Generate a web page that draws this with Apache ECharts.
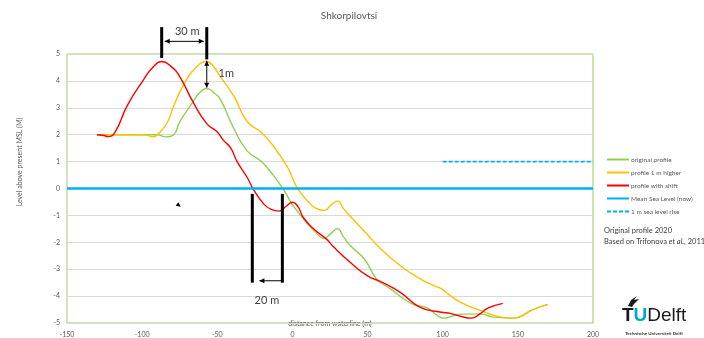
<!DOCTYPE html>
<html>
<head>
<meta charset="utf-8">
<script src="https://cdn.jsdelivr.net/npm/echarts@6/dist/echarts.min.js"></script>
<style>html,body{margin:0;padding:0;background:#fff}#c{width:704px;height:338px}</style>
</head>
<body>
<div id="c"></div>
<script>
// ---- data ----
var seriesNames = ['original profile', 'profile 1 m higher', 'profile with shift', 'Mean Sea Level (now)', '1 m sea level rise'];
var xTicks = [-150, -100, -50, 0, 50, 100, 150, 200];
var yTicks = [-5, -4, -3, -2, -1, 0, 1, 2, 3, 4, 5];

var originalX = [-130, -115, -100, -90, -84, -79, -75, -68, -62, -57, -52, -48, -39, -30, -21, -13, -6, 0, 10, 15, 21, 26, 30, 34, 39, 48, 56, 65, 79, 90, 96, 101, 106, 112, 125, 134, 147, 152, 159, 170];
var originalY = [2, 2, 2, 2, 1.92, 2.0, 2.48, 3.07, 3.55, 3.72, 3.55, 3.32, 2.23, 1.39, 1.02, 0.51, -0.03, -0.6, -1.31, -1.6, -1.85, -1.65, -1.49, -1.8, -2.15, -2.63, -3.36, -3.72, -4.27, -4.45, -4.7, -4.82, -4.75, -4.67, -4.67, -4.78, -4.82, -4.75, -4.53, -4.31];

var higherX = [-130, -115, -100, -96, -93, -88, -83, -79, -72, -65, -57, -52, -48, -39, -30, -21, -13, -3, 3, 12, 16, 21, 26, 30, 34, 39, 50, 59, 72, 85, 94, 99, 105, 112, 125, 139, 147, 152, 159, 170];
var higherY = [2, 2, 2, 1.97, 1.92, 2.1, 2.48, 3.07, 3.9, 4.45, 4.72, 4.5, 4.16, 3.43, 2.48, 2.1, 1.6, 0.77, 0.04, -0.58, -0.75, -0.82, -0.6, -0.47, -0.75, -1.06, -1.72, -2.26, -2.88, -3.36, -3.61, -3.72, -3.98, -4.23, -4.53, -4.78, -4.82, -4.75, -4.53, -4.31];

var shiftX = [-130, -126, -122.7, -118, -110, -99, -93, -87, -81, -75, -66, -57, -50, -46, -41, -37, -30, -26, -19, -14, -9, -4, 0, 4, 7, 14, 23, 27, 39, 50, 59, 72, 85, 99, 105, 112, 119, 125, 130, 140];
var shiftY = [2, 1.98, 1.93, 2.1, 3.07, 4.05, 4.5, 4.72, 4.55, 4.16, 3.2, 2.41, 2.1, 1.8, 1.5, 1.02, 0.4, -0.03, -0.58, -0.78, -0.84, -0.65, -0.51, -0.7, -1.06, -1.5, -1.9, -2.15, -2.77, -3.25, -3.47, -3.87, -4.42, -4.6, -4.64, -4.75, -4.82, -4.65, -4.45, -4.27];

var mslX = [-150, 200], mslY = [0, 0];
var riseX = [100, 200], riseY = [1, 1];

function zip(xs, ys) { return xs.map(function (x, i) { return [x, ys[i]]; }); }

var colors = ['#92d050', '#ffc000', '#ff0000', '#00b0f0', '#00b0f0'];
var TXT = '#595959';
var FONT = 'Lato';

var chart = echarts.init(document.getElementById('c'), null, { renderer: 'canvas' });

function lineSeries(name, data, color, width, type, smooth) {
  return {
    name: name, type: 'line', data: data, symbol: 'none', smooth: smooth,
    lineStyle: { color: color, width: width, type: type },
    itemStyle: { color: color }, z: 3, animation: false
  };
}

chart.setOption({
  animation: false,
  textStyle: { fontFamily: FONT },
  grid: { left: 67, right: 111, top: 54, bottom: 10, show: true, borderColor: '#92d050', borderWidth: 1, backgroundColor: 'transparent' },
  xAxis: {
    type: 'value', min: -150, max: 200, interval: 50,
    axisLine: { show: true, onZero: false, lineStyle: { color: '#d9d9d9' } },
    axisTick: { show: false },
    splitLine: { show: false },
    axisLabel: { color: TXT, fontSize: 7, margin: 8, fontFamily: FONT,
      formatter: function (v) { return xTicks.indexOf(v) >= 0 ? String(v) : ''; } }
  },
  yAxis: {
    type: 'value', min: -5, max: 5, interval: 1,
    axisLine: { show: true, onZero: false, lineStyle: { color: '#d9d9d9' } },
    axisTick: { show: false },
    splitLine: { show: true, lineStyle: { color: '#d9d9d9', width: 1 } },
    axisLabel: { color: TXT, fontSize: 7, margin: 7, fontFamily: FONT,
      formatter: function (v) { return yTicks.indexOf(v) >= 0 ? String(v) : ''; } }
  },
  legend: {
    orient: 'vertical', left: 601, top: 151, itemWidth: 22, itemHeight: 8, itemGap: 6,
    itemStyle: { opacity: 0 },
    textStyle: { color: TXT, fontSize: 6.5, fontFamily: FONT, padding: [0, 0, 0, -3] },
    data: seriesNames
  },
  series: [
    lineSeries(seriesNames[0], zip(originalX, originalY), colors[0], 1.4, 'solid', 0.5),
    lineSeries(seriesNames[1], zip(higherX, higherY), colors[1], 1.4, 'solid', 0.5),
    lineSeries(seriesNames[2], zip(shiftX, shiftY), colors[2], 1.4, 'solid', 0.5),
    lineSeries(seriesNames[3], zip(mslX, mslY), colors[3], 2.5, 'solid', false),
    lineSeries(seriesNames[4], zip(riseX, riseY), colors[4], 1.8, [4, 2], false)
  ]
});

function P(x, y) { return chart.convertToPixel({ xAxisIndex: 0, yAxisIndex: 0 }, [x, y]); }

function bar(x, y1, y2) {
  var a = P(x, y1), b = P(x, y2);
  return { type: 'line', shape: { x1: a[0], y1: a[1], x2: b[0], y2: b[1] }, style: { stroke: '#000', lineWidth: 3 }, z: 10 };
}
function head(tip, dx, dy) {
  var L = 5, W = 2.5;
  var bx = tip[0] - dx * L, by = tip[1] - dy * L;
  var px = -dy, py = dx;
  return { type: 'polygon', shape: { points: [[tip[0], tip[1]], [bx + px * W, by + py * W], [bx - px * W, by - py * W]] }, style: { fill: '#000' }, z: 10 };
}
function thin(a, b) {
  return { type: 'line', shape: { x1: a[0], y1: a[1], x2: b[0], y2: b[1] }, style: { stroke: '#000', lineWidth: 1 }, z: 10 };
}
function label(x, y, t, size) {
  var p = P(x, y);
  return { type: 'text', x: p[0], y: p[1], style: { text: t, fill: '#404040', font: size + 'px ' + FONT, align: 'center', verticalAlign: 'middle' }, z: 10 };
}

var g = [];
g.push(bar(-87, 4.85, 6.0));
g.push(bar(-57, 4.8, 6.0));
var h1 = P(-85, 5.47), h2 = P(-59, 5.47);
g.push(thin(h1, h2)); g.push(head(h1, -1, 0)); g.push(head(h2, 1, 0));
g.push(label(-70, 5.84, '30 m', 11));
var v1 = P(-57, 4.75), v2 = P(-57, 3.75);
g.push(thin(v1, v2)); g.push(head(v1, 0, -1)); g.push(head(v2, 0, 1));
g.push(label(-44, 4.27, '1m', 11));
g.push(bar(-26.7, -0.2, -3.5));
g.push(bar(-6.7, -0.2, -3.5));
var l1 = P(-7.5, -3.43), l2 = P(-22, -3.43);
g.push(thin(l1, l2)); g.push(head(l2, -1, 0));
g.push(label(-17, -4.16, '20 m', 11));
var tr = P(-76, -0.6);
g.push({ type: 'polygon', shape: { points: [[tr[0], tr[1] - 2.5], [tr[0] + 2.5, tr[1] + 2], [tr[0] - 2.5, tr[1] + 1]] }, style: { fill: '#000' }, z: 10 });

g.push({ type: 'text', x: 349, y: 16, style: { text: 'Shkorpilovtsi', fill: TXT, font: '10px ' + FONT, align: 'center', verticalAlign: 'middle' } });
g.push({ type: 'text', x: 20, y: 162, rotation: Math.PI / 2, style: { text: 'Level above present MSL (M)', fill: TXT, font: '7px ' + FONT, align: 'center', verticalAlign: 'middle' } });
g.push({ type: 'text', x: 330, y: 324, style: { text: 'distance from waterline (m)', fill: TXT, font: '7px ' + FONT, align: 'center', verticalAlign: 'middle' } });
g.push({ type: 'text', x: 604, y: 231, style: { text: 'Original profile 2020', fill: '#404040', font: '7.5px ' + FONT, align: 'left', verticalAlign: 'middle' } });
g.push({ type: 'text', x: 604, y: 242, style: { text: '{n|Based on Trifonova }{i|et al.}{n|, 2011}', align: 'left', verticalAlign: 'middle',
  rich: { n: { fill: '#404040', font: '7.5px ' + FONT }, i: { fill: '#404040', font: 'italic 7.5px ' + FONT } } } });
g.push({ type: 'text', x: 622, y: 316, style: { text: '{t|T}{u|U}{d|Delft}', align: 'left', verticalAlign: 'middle',
  rich: { t: { fill: '#1a1a1a', font: 'bold 19px "Liberation Sans"' }, u: { fill: '#00a6d6', font: 'bold 19px "Liberation Sans"' }, d: { fill: '#1a1a1a', font: '19px "Liberation Sans"' } } } });
g.push({ type: 'polygon', shape: { points: [[628, 306], [631, 300], [637, 296], [634, 300], [639, 299], [634, 304], [632, 307]] }, style: { fill: '#1a1a1a' } });
g.push({ type: 'text', x: 654, y: 334, style: { text: 'Technische Universiteit Delft', fill: '#333', font: 'bold 4.5px ' + FONT, align: 'center', verticalAlign: 'middle' } });

chart.setOption({ graphic: { elements: g } });
</script>
</body>
</html>
